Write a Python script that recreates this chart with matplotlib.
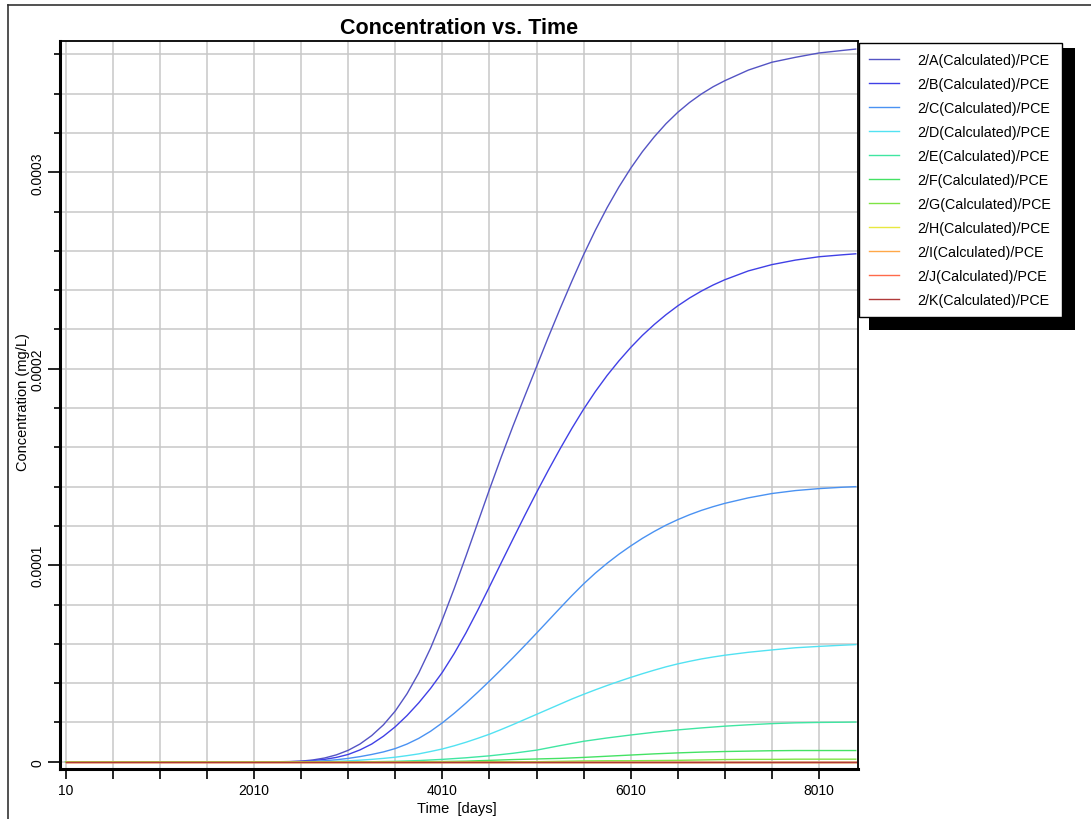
import matplotlib
matplotlib.use("Agg")
import matplotlib.pyplot as plt
from matplotlib.lines import Line2D
from matplotlib.patches import Rectangle
from matplotlib.ticker import MultipleLocator, FuncFormatter

plt.rcParams["font.family"] = ["Liberation Sans", "DejaVu Sans"]

# Output times (days): dense record for the fast-rising wells A-D
time_fine = [10, 2260, 2385, 2510, 2635, 2760, 2885, 3010, 3135, 3260, 3385,
             3510, 3635, 3760, 3885, 4010, 4135, 4260, 4385, 4510, 4635,
             4760, 4885, 5010, 5135, 5260, 5385, 5510, 5635, 5760, 5885,
             6010, 6135, 6260, 6385, 6510, 6635, 6760, 6885, 7010, 7260,
             7510, 7760, 8010, 8260, 8400]
# ... and a coarser record for the slower wells E-K
time_coarse = [10, 2260, 2510, 2760, 3010, 3260, 3510, 3760, 4010, 4260,
               4510, 4760, 5010, 5260, 5510, 5760, 6010, 6260, 6510, 6760,
               7010, 7260, 7510, 7760, 8010, 8260, 8400]

# Calculated PCE concentration, in 1e-6 mg/L
conc_A = [0, 0, 0.05, 0.3, 0.9, 1.9, 3.5, 5.8, 9.0, 13.3, 18.8, 25.8, 34.6,
          45.2, 57.8, 72.3, 88.0, 104.5, 121.5, 138.5, 155.0, 170.8, 186.0,
          201.0, 216.0, 230.5, 244.5, 258.0, 270.5, 282.0, 292.5, 302.0,
          310.5, 318.0, 324.7, 330.5, 335.5, 339.8, 343.5, 346.6, 352.0,
          356.0, 358.5, 360.7, 362.0, 362.7]
conc_B = [0, 0, 0.05, 0.2, 0.6, 1.2, 2.2, 3.7, 6.0, 9.0, 13.0, 17.8, 23.5,
          30.0, 37.3, 45.5, 55.0, 65.5, 77.0, 89.0, 101.2, 113.3, 125.3,
          137.0, 148.3, 159.2, 169.6, 179.4, 188.4, 196.6, 204.0, 210.8,
          217.0, 222.5, 227.5, 232.0, 236.0, 239.5, 242.6, 245.3, 249.8,
          253.0, 255.3, 257.0, 258.0, 258.5]
conc_C = [0, 0, 0, 0, 0.2, 0.5, 1.0, 1.7, 2.6, 3.7, 5.0, 6.7, 9.0, 11.9,
          15.5, 19.8, 24.6, 29.8, 35.3, 41.0, 46.9, 52.9, 59.1, 65.4, 71.8,
          78.2, 84.5, 90.5, 96.0, 101.0, 105.6, 109.8, 113.7, 117.2, 120.4,
          123.2, 125.7, 127.9, 129.8, 131.5, 134.3, 136.5, 138.0, 139.0,
          139.7, 140.0]
conc_D = [0, 0, 0, 0, 0, 0, 0.2, 0.45, 0.8, 1.2, 1.7, 2.3, 3.1, 4.0, 5.2,
          6.5, 8.1, 9.9, 11.9, 14.0, 16.4, 18.9, 21.5, 24.1, 26.7, 29.3,
          31.9, 34.3, 36.6, 38.8, 40.9, 42.9, 44.8, 46.6, 48.3, 49.8, 51.1,
          52.3, 53.3, 54.2, 55.7, 56.9, 58.0, 58.7, 59.3, 59.6]
conc_E = [0, 0, 0, 0, 0, 0, 0.2, 0.6, 1.2, 2.0, 3.0, 4.3, 5.9, 8.2, 10.4,
          12.1, 13.6, 15.0, 16.2, 17.2, 18.1, 18.8, 19.4, 19.8, 20.0, 20.1,
          20.2]
conc_F = [0, 0, 0, 0, 0, 0, 0, 0, 0.1, 0.3, 0.7, 1.1, 1.4, 1.7, 2.2, 2.8,
          3.4, 4.0, 4.5, 4.9, 5.2, 5.4, 5.6, 5.7, 5.7, 5.7, 5.7]
conc_G = [0, 0, 0, 0, 0, 0, 0, 0, 0, 0, 0, 0, 0, 0.2, 0.4, 0.5, 0.5, 0.6,
          0.7, 0.9, 1.1, 1.2, 1.2, 1.3, 1.3, 1.3, 1.3]
conc_H = [0] * 27
conc_I = [0] * 27
conc_J = [0] * 27
conc_K = [0] * 27

series_names = ["A", "B", "C", "D", "E", "F", "G", "H", "I", "J", "K"]
series_values = [conc_A, conc_B, conc_C, conc_D, conc_E, conc_F, conc_G,
                 conc_H, conc_I, conc_J, conc_K]
series_times = [time_fine] * 4 + [time_coarse] * 7
series_colors = ["#5454c4", "#4040e6", "#4a92f2", "#52e2f2", "#40e6a2",
                 "#44e264", "#7ee444", "#e8e840", "#ffa848", "#ff6a4a",
                 "#b03a3a"]
UNIT = 1e-6

x_major_ticks = [10, 2010, 4010, 6010, 8010]

W, H = 1091, 820


def fx(px):
    return px / W


def fy(py):
    return 1 - py / H


fig = plt.figure(figsize=(W / 100, H / 100), dpi=100)
ax = fig.add_axes([fx(60), fy(770), fx(858) - fx(60), fy(42) - fy(770)])

for name, t, vals, color in zip(series_names, series_times, series_values,
                                series_colors):
    ax.plot(t, [v * UNIT for v in vals], color=color, lw=1.0,
            label=f"2/{name}(Calculated)/PCE")

ax.set_xlim(-50, 8424)
ax.set_ylim(-3.7e-6, 366.8e-6)

ax.set_xticks(x_major_ticks)
ax.set_xticklabels([str(t) for t in x_major_ticks])
ax.xaxis.set_minor_locator(MultipleLocator(500, offset=10))
ax.yaxis.set_major_locator(MultipleLocator(1e-4))
ax.yaxis.set_minor_locator(MultipleLocator(2e-5))
ax.yaxis.set_major_formatter(
    FuncFormatter(lambda v, p: "0" if abs(v) < 1e-12 else f"{v:.4f}"))

ax.grid(which="both", color="#c8c8c8", lw=1.1)
ax.set_axisbelow(True)

ax.tick_params(axis="x", which="both", direction="out", length=7, width=1.2,
               labelsize=10, pad=3)
ax.tick_params(axis="y", which="major", direction="out", length=8.5,
               width=1.2, labelsize=10, pad=3)
ax.tick_params(axis="y", which="minor", direction="out", length=4.3,
               width=1.2)
for lab in ax.get_yticklabels():
    lab.set_rotation(90)
    lab.set_va("center")

for side in ("left", "bottom"):
    ax.spines[side].set_linewidth(2.2)
for side in ("top", "right"):
    ax.spines[side].set_linewidth(1.3)

ax.set_title("Concentration vs. Time", fontsize=15.5, fontweight="bold",
             pad=6)
ax.set_xlabel("Time  [days]", fontsize=10.5)
ax.set_ylabel("Concentration (mg/L)", fontsize=10.5)
ax.xaxis.set_label_coords(0.4975, -0.044)
ax.yaxis.set_label_coords(-0.037, 0.505)

handles, labels = ax.get_legend_handles_labels()
leg = fig.legend(handles, labels, loc="upper left",
                 bbox_to_anchor=(fx(859), fy(44)), borderaxespad=0,
                 fontsize=10.3, frameon=True, fancybox=False,
                 edgecolor="black", framealpha=1, borderpad=0.7,
                 handlelength=2.1, handletextpad=1.3, labelspacing=0.70)
leg.get_frame().set_linewidth(1.0)
leg.set_zorder(6)

# Drop shadow behind the legend box
fig.canvas.draw()
bb = leg.get_window_extent()
inv = fig.transFigure.inverted()
(x0, y0) = inv.transform((bb.x0 + 10, bb.y0 - 13))
(x1, y1) = inv.transform((bb.x1 + 13, bb.y1 - 5))
fig.add_artist(Rectangle((x0, y0), x1 - x0, y1 - y0,
                         transform=fig.transFigure, facecolor="black",
                         edgecolor="none", zorder=5))

# Outer frame of the chart window
fig.add_artist(Line2D([fx(8), 1], [fy(6), fy(6)], transform=fig.transFigure,
                      color="#333333", lw=1.2))
fig.add_artist(Line2D([fx(8), fx(8)], [fy(6), 0], transform=fig.transFigure,
                      color="#333333", lw=1.2))

fig.savefig("out.png", dpi=100)
